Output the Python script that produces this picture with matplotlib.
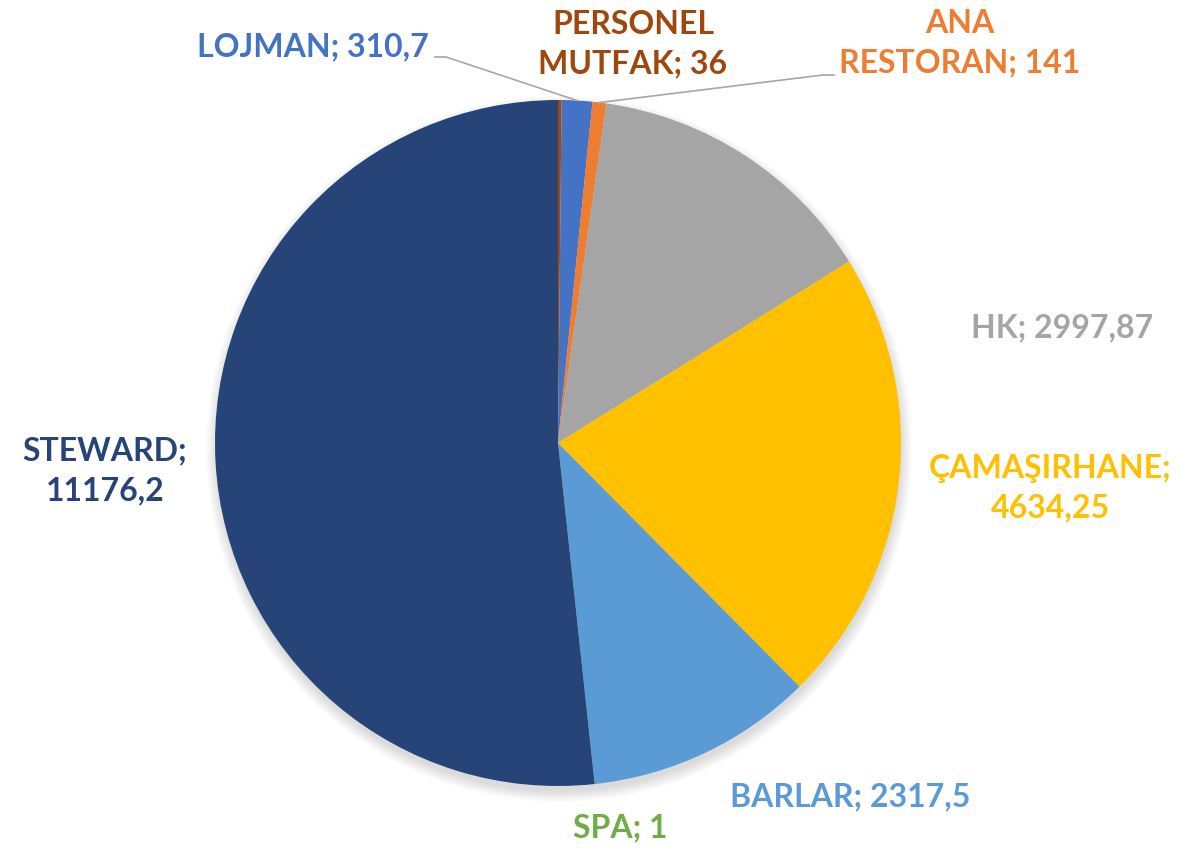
import numpy as np
import matplotlib.pyplot as plt
from matplotlib.patches import Circle

# slice data (clockwise from 12 o'clock)
labels = ['PERSONEL\nMUTFAK', 'LOJMAN', 'ANA\nRESTORAN', 'HK', 'ÇAMAŞIRHANE;\n', 'BARLAR', 'SPA', 'STEWARD;\n']
values = [36, 310.7, 141, 2997.87, 4634.25, 2317.5, 1, 11176.2]
value_text = ['36', '310,7', '141', '2997,87', '4634,25', '2317,5', '1', '11176,2']
colors = ['#9E480E', '#4472C4', '#ED7D31', '#A5A5A5', '#FFC000', '#5B9BD5', '#70AD47', '#264478']

W, H = 1180, 849
fig = plt.figure(figsize=(W / 100, H / 100), dpi=100)
ax = fig.add_axes([0, 0, 1, 1])

cx, cy, r = 558, H - 443, 343

# soft shadow under the pie
for k in range(12):
    ax.add_patch(Circle((cx + 1, cy - 6), r + 10 - k, color='black',
                        alpha=0.012, lw=0, zorder=0))

wedges, _ = ax.pie(values, colors=colors, startangle=90, counterclock=False,
                   center=(cx, cy), radius=r, frame=True,
                   wedgeprops=dict(linewidth=0))
ax.set_xlim(0, W)
ax.set_ylim(0, H)
ax.set_aspect('equal')
ax.axis('off')

# label positions (pixel coords, y from top)
pos = [(633, 44), (313, 47), (960, 43), (1062, 328), (1050, 488),
       (850, 797), (620, 828), (105, 471)]

font = dict(family='Lato', fontweight='bold', fontsize=23)
for i in range(len(values)):
    lab = labels[i]
    if lab.endswith('\n'):
        txt = lab + value_text[i]
    else:
        txt = lab + '; ' + value_text[i]
    x, y = pos[i]
    ax.text(x, H - y, txt, color=colors[i], ha='center', va='center',
            linespacing=1.45, **font)


def edge_point(w):
    mid = np.deg2rad((w.theta1 + w.theta2) / 2)
    return cx + r * np.cos(mid), cy + r * np.sin(mid)


# leader lines
ex, ey = edge_point(wedges[1])
ax.plot([435, 446, ex], [H - 57, H - 57, ey], color='#A6A6A6', lw=1.2, zorder=5)
ex, ey = edge_point(wedges[2])
ax.plot([834, 823, ex], [H - 75, H - 75, ey], color='#A6A6A6', lw=1.2, zorder=5)

plt.savefig('out.png', dpi=100)
